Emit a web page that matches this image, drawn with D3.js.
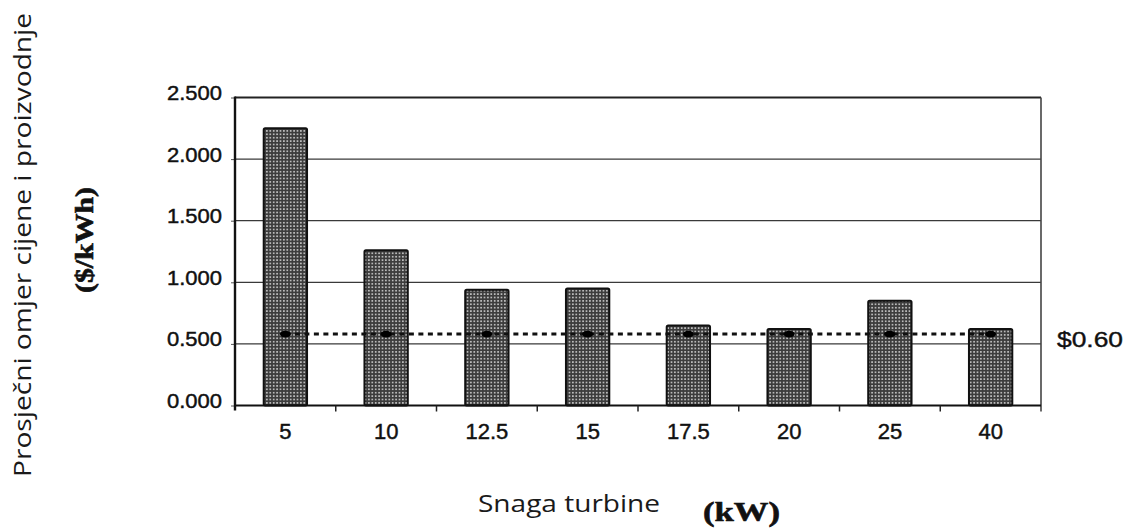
<!DOCTYPE html>
<html>
<head>
<meta charset="utf-8">
<script src="https://cdn.jsdelivr.net/npm/d3@7"></script>
<style>
  html, body { margin: 0; padding: 0; background: #fff; }
  svg { display: block; }
</style>
</head>
<body>
<svg id="chart" width="1134" height="528"></svg>
<script>
// ---- data ----
const categories = ["5", "10", "12.5", "15", "17.5", "20", "25", "40"];
const costValues = [2.25, 1.26, 0.94, 0.95, 0.65, 0.62, 0.85, 0.62];
const referenceValue = 0.58;
const referenceLabel = "$0.60";
const yTicks = [0, 0.5, 1.0, 1.5, 2.0, 2.5];
const yTitle = "Prosječni omjer cijene i proizvodnje";
const yUnit = "($/kWh)";
const xTitle = "Snaga turbine";
const xUnit = "(kW)";

// ---- layout ----
const svg = d3.select("#chart");
const L = 235, R = 1041, T = 97.5, B = 405.5;

const x = d3.scaleBand().domain(categories).range([L, R]).padding(0);
const y = d3.scaleLinear().domain([0, 2.5]).range([B, T]);
const barW = x.bandwidth() * 0.43;

// pattern for bars
const defs = svg.append("defs");
const pat = defs.append("pattern")
  .attr("id", "dots").attr("patternUnits", "userSpaceOnUse")
  .attr("width", 3.4).attr("height", 3.4);
pat.append("rect").attr("width", 3.4).attr("height", 3.4).attr("fill", "#3c3c3c");
pat.append("circle").attr("cx", 1.7).attr("cy", 1.7).attr("r", 0.95).attr("fill", "#d6d6d6");

// gridlines
svg.append("g").selectAll("line").data(yTicks.filter(d => d > 0 && d < 2.5)).join("line")
  .attr("x1", L).attr("x2", R).attr("y1", d => y(d)).attr("y2", d => y(d))
  .attr("stroke", "#3a3a3a").attr("stroke-width", 1.3);

// frame: top and right
svg.append("line").attr("x1", L).attr("x2", R).attr("y1", y(2.5)).attr("y2", y(2.5))
  .attr("stroke", "#222").attr("stroke-width", 2);
svg.append("line").attr("x1", R).attr("x2", R).attr("y1", y(2.5)).attr("y2", B + 6)
  .attr("stroke", "#444").attr("stroke-width", 1.6);

// bars
svg.append("g").selectAll("rect").data(costValues).join("rect")
  .attr("x", (d, i) => x(categories[i]) + x.bandwidth() / 2 - barW / 2)
  .attr("y", d => y(d))
  .attr("width", barW)
  .attr("height", d => B - y(d))
  .attr("rx", 1.5)
  .attr("fill", "url(#dots)")
  .attr("stroke", "#111").attr("stroke-width", 2);

const labelFont = "'Liberation Sans', Arial, sans-serif";

// y axis
const yAxis = d3.axisLeft(y).tickValues(yTicks).tickFormat(d3.format(".3f"))
  .tickSize(4).tickPadding(9);
const gy = svg.append("g").attr("transform", `translate(${L},0)`).call(yAxis);
gy.select(".domain").remove();
gy.selectAll(".tick line").attr("stroke", "#555").attr("stroke-width", 1);
gy.selectAll(".tick text")
  .attr("font-family", labelFont)
  .attr("font-size", 20).attr("fill", "#111")
  .attr("stroke", "#111").attr("stroke-width", 0.45)
  .attr("dy", "0.1em")
  .attr("textLength", 55).attr("lengthAdjust", "spacingAndGlyphs");
svg.append("line").attr("x1", L).attr("x2", L).attr("y1", T - 1).attr("y2", B + 5)
  .attr("stroke", "#111").attr("stroke-width", 2.4);

// x axis
const xAxis = d3.axisBottom(x).tickSize(0).tickPadding(18);
const gx = svg.append("g").attr("transform", `translate(0,${B})`).call(xAxis);
gx.select(".domain").remove();
gx.selectAll(".tick text")
  .attr("font-family", labelFont)
  .attr("font-size", 22).attr("fill", "#111")
  .attr("stroke", "#111").attr("stroke-width", 0.45);
svg.append("line").attr("x1", L).attr("x2", R).attr("y1", B).attr("y2", B)
  .attr("stroke", "#111").attr("stroke-width", 2.2);
// boundary ticks between categories
svg.append("g").selectAll("line").data(categories.slice(1)).join("line")
  .attr("x1", d => x(d)).attr("x2", d => x(d))
  .attr("y1", B).attr("y2", B + 6)
  .attr("stroke", "#222").attr("stroke-width", 1.5);

// reference dotted line with markers
const cx = categories.map(c => x(c) + x.bandwidth() / 2);
svg.append("line")
  .attr("x1", cx[0]).attr("x2", cx[cx.length - 1])
  .attr("y1", y(referenceValue)).attr("y2", y(referenceValue))
  .attr("stroke", "#111").attr("stroke-width", 3).attr("stroke-dasharray", "5,4.5");
svg.append("g").selectAll("ellipse").data(categories).join("ellipse")
  .attr("cx", d => x(d) + x.bandwidth() / 2).attr("cy", y(referenceValue))
  .attr("rx", 5.5).attr("ry", 3.4).attr("fill", "#000");

svg.append("text").attr("x", 1057).attr("y", y(0.5) + 3)
  .attr("font-family", labelFont)
  .attr("font-size", 22).attr("fill", "#111")
  .attr("stroke", "#111").attr("stroke-width", 0.4)
  .attr("textLength", 66).attr("lengthAdjust", "spacingAndGlyphs")
  .text(referenceLabel);

// axis titles
svg.append("text")
  .attr("transform", "translate(31,245) rotate(-90)")
  .attr("text-anchor", "middle")
  .attr("font-family", "'Open Sans', 'Noto Sans', sans-serif")
  .attr("font-size", 23).attr("fill", "#1a1a1a")
  .attr("textLength", 464).attr("lengthAdjust", "spacingAndGlyphs")
  .text(yTitle);
svg.append("text")
  .attr("transform", "translate(93,240) rotate(-90)")
  .attr("text-anchor", "middle")
  .attr("font-family", "'Liberation Serif', 'DejaVu Serif', serif")
  .attr("font-weight", "bold")
  .attr("font-size", 26).attr("fill", "#111")
  .attr("stroke", "#111").attr("stroke-width", 0.6)
  .attr("textLength", 106).attr("lengthAdjust", "spacingAndGlyphs")
  .text(yUnit);
svg.append("text")
  .attr("x", 478).attr("y", 512)
  .attr("font-family", "'Open Sans', 'Noto Sans', sans-serif")
  .attr("font-size", 24).attr("fill", "#1a1a1a")
  .attr("textLength", 182).attr("lengthAdjust", "spacingAndGlyphs")
  .text(xTitle);
svg.append("text")
  .attr("x", 703).attr("y", 521)
  .attr("font-family", "'Liberation Serif', 'DejaVu Serif', serif")
  .attr("font-weight", "bold")
  .attr("font-size", 27).attr("fill", "#111")
  .attr("stroke", "#111").attr("stroke-width", 0.6)
  .attr("textLength", 77).attr("lengthAdjust", "spacingAndGlyphs")
  .text(xUnit);
</script>
</body>
</html>
